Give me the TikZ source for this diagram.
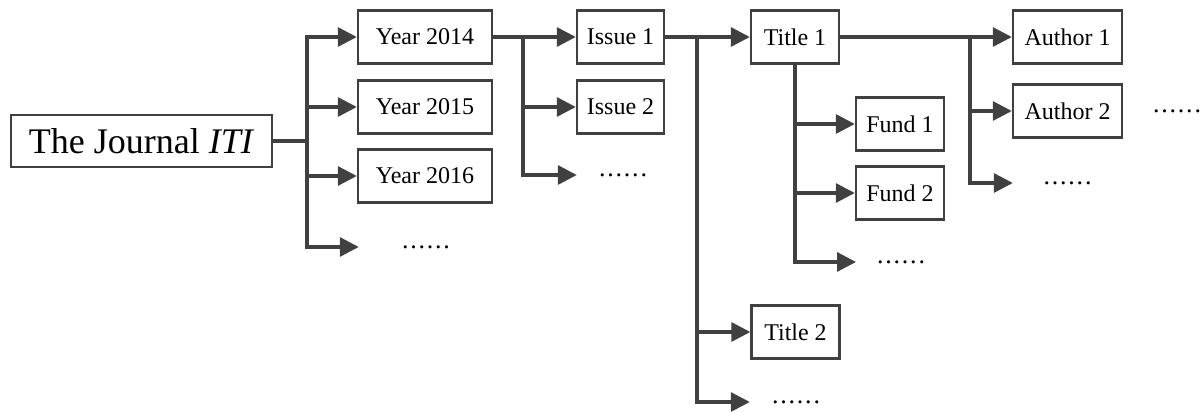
\documentclass[tikz,border=0pt]{standalone}
\usepackage{fontspec}
\setmainfont{Liberation Serif}
\usetikzlibrary{arrows.meta}
\definecolor{ln}{HTML}{404040}
\newcommand{\sixdots}{.\kern1.8pt.\kern1.8pt.\kern1.8pt.\kern1.8pt.\kern1.8pt.}
\begin{document}
\begin{tikzpicture}[x=1pt,y=-1pt,
  box/.style={draw=ln, line width=2.4pt, fill=white, inner sep=0pt, text=black,
    font=\fontsize{24}{24}\selectfont, minimum height=53pt},
  dotsn/.style={inner sep=0pt, text=black, font=\fontsize{26}{26}\selectfont, minimum height=20pt},
  conn/.style={draw=ln, line width=3.2pt},
  arr/.style={conn, -{Triangle[length=19pt,width=19pt]}}]
\useasboundingbox (0,0) rectangle (1203,412);
% level 0
\node[box, minimum width=261pt, minimum height=52pt, font=\fontsize{36}{36}\selectfont] (j) at (141.5,141) {The Journal \textit{ITI}};
% years
\node[box, minimum width=134pt] (y14) at (425,37) {Year 2014};
\node[box, minimum width=134pt] (y15) at (425,107) {Year 2015};
\node[box, minimum width=134pt] (y16) at (425,176) {Year 2016};
\node[dotsn, minimum width=134pt] (yd) at (426,247) {\sixdots};
% issues
\node[box, minimum width=87pt] (i1) at (620.5,37) {Issue 1};
\node[box, minimum width=87pt] (i2) at (620.5,107) {Issue 2};
\node[dotsn, minimum width=92pt] (id) at (623,175) {\sixdots};
% titles
\node[box, minimum width=88pt] (t1) at (795,37) {Title 1};
\node[box, minimum width=88pt] (t2) at (795.5,332) {Title 2};
\node[dotsn, minimum width=92pt] (td) at (796,402) {\sixdots};
% funds
\node[box, minimum width=88pt] (f1) at (900,124) {Fund 1};
\node[box, minimum width=88pt] (f2) at (900,193) {Fund 2};
\node[dotsn] (fd) at (901,262) {\sixdots};
\coordinate (fdw) at (856,262);
% authors
\node[box, minimum width=109pt] (a1) at (1067.5,37) {Author 1};
\node[box, minimum width=109pt] (a2) at (1067.5,111) {Author 2};
\node[dotsn, minimum width=109pt] (ad) at (1067.5,183) {\sixdots};
\node[dotsn] (ar) at (1177,111) {\sixdots};
% bus coordinates
\coordinate (b1) at (307,141);
\coordinate (b2) at (523,37);
\coordinate (b3) at (697,37);
\coordinate (b4) at (970,37);
% level 1
\draw[conn] (j.east) -- (b1);
\draw[arr] (b1) |- (y14.west);
\draw[arr] (b1) |- (y15.west);
\draw[arr] (b1) |- (y16.west);
\draw[arr] (b1) |- (yd.west);
% level 2
\draw[conn] (y14.east) -- (b2);
\draw[arr] (b2) -- (i1.west);
\draw[arr] (b2) |- (i2.west);
\draw[arr] (b2) |- (id.west);
% level 3
\draw[conn] (i1.east) -- (b3);
\draw[arr] (b3) -- (t1.west);
\draw[arr] (b3) |- (t2.west);
\draw[arr] (b3) |- (td.west);
% funds
\draw[arr] (t1.south) |- (f1.west);
\draw[arr] (t1.south) |- (f2.west);
\draw[arr] (t1.south) |- (fdw);
% authors
\draw[conn] (t1.east) -- (b4);
\draw[arr] (b4) -- (a1.west);
\draw[arr] (b4) |- (a2.west);
\draw[arr] (b4) |- (ad.west);
\end{tikzpicture}
\end{document}
